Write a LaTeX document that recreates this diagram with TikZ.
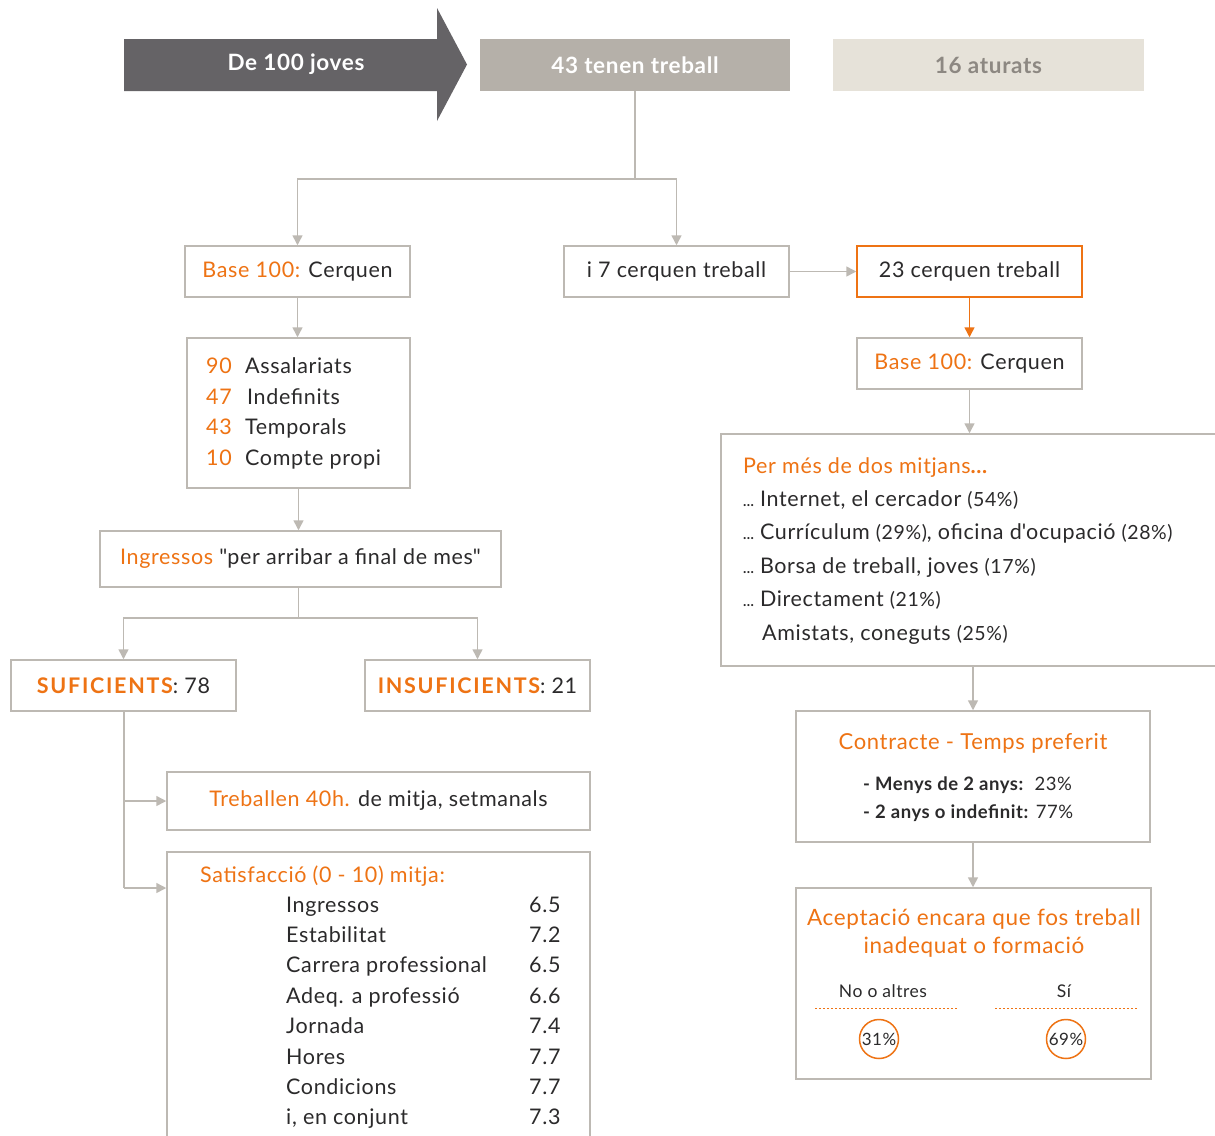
\documentclass[tikz,border=0pt]{standalone}
\usepackage{fontspec}
\setmainfont{Lato}[LetterSpace=3]
\usetikzlibrary{arrows.meta}
\definecolor{org}{HTML}{EE7314}
\definecolor{ln}{HTML}{BDB9B3}
\definecolor{txt}{HTML}{2B2A2B}
\definecolor{dark}{HTML}{656366}
\definecolor{midg}{HTML}{B5B0A9}
\definecolor{lightg}{HTML}{E6E2D9}
\definecolor{atur}{HTML}{8D8882}
\newcommand{\fs}[1]{\fontsize{#1}{#1}\selectfont}
\newcommand{\qd}{\textquotedbl}
\newcommand{\pcs}{\fs{19.5}}
\begin{document}
\begin{tikzpicture}[x=1pt,y=-1pt,
  every node/.style={text=txt, font=\fs{21.5}, inner sep=0pt},
  bx/.style={draw=ln, line width=1.5pt, fill=white, inner sep=0pt},
  obx/.style={draw=org, line width=1.5pt, fill=white, inner sep=0pt},
  ln/.style={draw=ln, line width=1.5pt},
  ar/.style={draw=ln, line width=1.5pt, -{Triangle[length=10pt,width=10pt]}},
  oar/.style={draw=org, line width=1.5pt, -{Triangle[length=10pt,width=10pt]}},
  hd/.style={font=\bfseries\fs{22.5}},
  lt/.style={anchor=base west},
  dots/.style={draw=org, line width=1pt, dash pattern=on 2pt off 2pt}
]
\clip (0,0) rectangle (1215,1135);
\fill[white] (0,0) rectangle (1215,1135);

% top banner
\fill[dark] (124,39) -- (437,39) -- (437,8) -- (467,64.5) -- (437,121) -- (437,91) -- (124,91) -- cycle;
\node[hd, text=white] (joves) at (296,64) {De 100 joves};
\node[fill=midg, minimum width=310pt, minimum height=52pt, hd, text=white] (tenen) at (635,65) {43 tenen treball};
\node[fill=lightg, minimum width=311pt, minimum height=52pt, hd, text=atur] (aturats) at (988.5,65) {16 aturats};

% level 2
\node[bx, minimum width=225pt, minimum height=51pt] (base1) at (297.5,271.5) {{\color{org}Base 100:} Cerquen};
\node[bx, minimum width=225pt, minimum height=51pt] (i7) at (676.5,271.5) {i 7 cerquen treball};
\node[obx, minimum width=225pt, minimum height=51pt] (w23) at (969.5,271.5) {23 cerquen treball};
\node[bx, minimum width=225pt, minimum height=51pt] (base2) at (969.5,363.5) {{\color{org}Base 100:} Cerquen};

\coordinate (j1) at (635,179);
\draw[ln] (tenen.south) -- (j1);
\draw[ar] (j1) -| (base1.north);
\draw[ar] (j1) -| (i7.north);
\draw[ar] (i7.east) -- (w23.west);
\draw[oar] (w23.south) -- (base2.north);

% left column
\node[bx, minimum width=223pt, minimum height=150pt] (lst1) at (298.5,413) {};
\draw[ar] (base1.south) -- (base1.south |- lst1.north);
\node[text=org, anchor=base east] (n90) at (232,373) {90};
\node[lt] (t90) at (245,373) {Assalariats};
\node[text=org, anchor=base east] (n47) at (232,404) {47};
\node[lt] (t47) at (247,404) {Indefinits};
\node[text=org, anchor=base east] (n43) at (232,434) {43};
\node[lt] (t43) at (245,434) {Temporals};
\node[text=org, anchor=base east] (n10) at (232,465) {10};
\node[lt] (t10) at (245,465) {Compte propi};

\node[bx, minimum width=401pt, minimum height=56pt] (ingr) at (300.5,559) {{\color{org}Ingressos} \qd per arribar a final de mes\qd};
\draw[ar] (lst1.south) -- (lst1.south |- ingr.north);

\node[bx, minimum width=225pt, minimum height=51pt] (suf) at (123.5,685.5) {{\color{org}\bfseries\addfontfeature{LetterSpace=8}SUFICIENTS}: 78};
\node[bx, minimum width=225pt, minimum height=51pt] (insuf) at (477.5,685.5) {{\color{org}\bfseries\addfontfeature{LetterSpace=8}INSUFICIENTS}: 21};
\coordinate (j2) at (298.5,618);
\draw[ln] (ingr.south -| j2) -- (j2);
\draw[ar] (j2) -| (suf.north);
\draw[ar] (j2) -| (insuf.north);

\node[bx, minimum width=423pt, minimum height=58pt] (treb) at (378.5,801) {{\color{org}Treballen 40h.} de mitja, setmanals};
\node[bx, minimum width=423pt, minimum height=300pt, anchor=north] (sat) at (378.5,851) {};
\coordinate (k1) at (124,801);
\coordinate (k2) at (124,888);
\draw[ln] (suf.south -| k1) -- (k2);
\draw[ar] (k1) -- (k1 -| treb.west);
\draw[ar] (k2) -- (k2 -| sat.west);

\node[lt, text=org] (sattl) at (200,882) {Satisfacció (0 - 10) mitja:};
\foreach \lab/\val [count=\i from 0] in {Ingressos/6.5, Estabilitat/7.2, Carrera professional/6.5, Adeq. a professió/6.6, Jornada/7.4, Hores/7.7, Condicions/7.7, {i, en conjunt}/7.3}{
  \node[lt] (sl\i) at (286,{912+30.4*\i}) {\lab};
  \node[lt] (sv\i) at (529,{912+30.4*\i}) {\val};
}

% right column
\node[bx, minimum width=495pt, minimum height=232pt] (lst2) at (968.5,550) {};
\draw[ar] (base2.south) -- (base2.south |- lst2.north);
\node[lt, text=org] (rtl) at (743,473) {Per més de dos mitjans\textbf{...}};
\node[lt] (r1) at (743,506) {{\fs{14}\bfseries...}\hspace{6pt}Internet, el cercador {\pcs(54\%)}};
\node[lt] (r2) at (743,539) {{\fs{14}\bfseries...}\hspace{6pt}Currículum {\pcs(29\%)}, oficina d\textquotesingle ocupació {\pcs(28\%)}};
\node[lt] (r3) at (743,573) {{\fs{14}\bfseries...}\hspace{6pt}Borsa de treball, joves {\pcs(17\%)}};
\node[lt] (r4) at (743,606) {{\fs{14}\bfseries...}\hspace{6pt}Directament {\pcs(21\%)}};
\node[lt] (r5) at (762,640) {Amistats, coneguts {\pcs(25\%)}};

\node[bx, minimum width=354pt, minimum height=131pt] (contr) at (973,776.5) {};
\draw[ar] (contr.north |- lst2.south) -- (contr.north);
\node[text=org, anchor=base, font=\fs{22}] (ctl) at (973,749) {Contracte - Temps preferit};
\node[lt, font=\fs{18.5}] (c1) at (863,790) {\textbf{- Menys de 2 anys:}\ \ 23\%};
\node[lt, font=\fs{18.5}] (c2) at (863,818) {\textbf{- 2 anys o indefinit:} 77\%};

\node[bx, minimum width=355pt, minimum height=191pt] (acc) at (973.5,983.5) {};
\draw[ar] (contr.south) -- (contr.south |- acc.north);
\node[text=org, anchor=base, font=\fs{22.5}] (atl1) at (974,925) {Aceptació encara que fos treball};
\node[text=org, anchor=base, font=\fs{22.5}] (atl2) at (974,953) {inadequat o formació};
\node[anchor=base, font=\fs{17.5}] (no) at (883,997) {No o altres};
\node[anchor=base, font=\fs{17.5}] (si) at (1064,997) {Sí};
\coordinate (d1a) at (815,1008); \coordinate (d1b) at (957,1008);
\coordinate (d2a) at (995,1008); \coordinate (d2b) at (1137,1008);
\draw[dots] (d1a) -- (d1b);
\draw[dots] (d2a) -- (d2b);
\node[circle, draw=org, line width=1.5pt, minimum size=39pt, font=\fs{17}] (p31) at (879,1039) {31\%};
\node[circle, draw=org, line width=1.5pt, minimum size=39pt, font=\fs{17}] (p69) at (1066,1039) {69\%};
\end{tikzpicture}
\end{document}
